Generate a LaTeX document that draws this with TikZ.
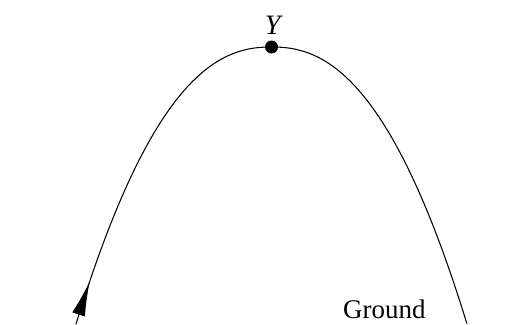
\documentclass[tikz,border=0pt]{standalone}
\usepackage{fontspec}
\setmainfont{Liberation Serif}
\usepackage{tikz}
\usetikzlibrary{arrows.meta,positioning,decorations.markings}

\begin{document}
\begin{tikzpicture}[
  x=0.03cm, y=0.03cm,
  font=\fontsize{23}{25}\selectfont,
  path/.style={line width=0.9pt, line cap=round},
  dirarrow/.style={postaction={decorate}, decoration={markings,
    mark=at position 1.35cm with {\arrow{Latex[length=1.05cm,width=0.4cm]}}}},
  dot/.style={circle, fill=black, inner sep=0pt, minimum size=0.39cm},
  lbl/.style={inner sep=0pt},
]
  \useasboundingbox (0,0) rectangle (529,324);
  % Flight path from the ground up to Y and back down
  \draw[path, dirarrow] plot[domain=-1:1, samples=101, smooth]
    ({271.5+195.5*\x}, {277*(1-pow(abs(\x)+0.0001,2.3))});
  % Highest point
  \node[dot] (apex) at (271.5,277) {};
  \node[lbl, above=0.39cm of apex.center, anchor=base, xshift=2pt,
    font=\fontsize{24}{26}\selectfont] (ylabel) {\textit{Y}};
  % Ground label
  \node[lbl, anchor=base west] (ground) at (343,6) {Ground};
\end{tikzpicture}
\end{document}
